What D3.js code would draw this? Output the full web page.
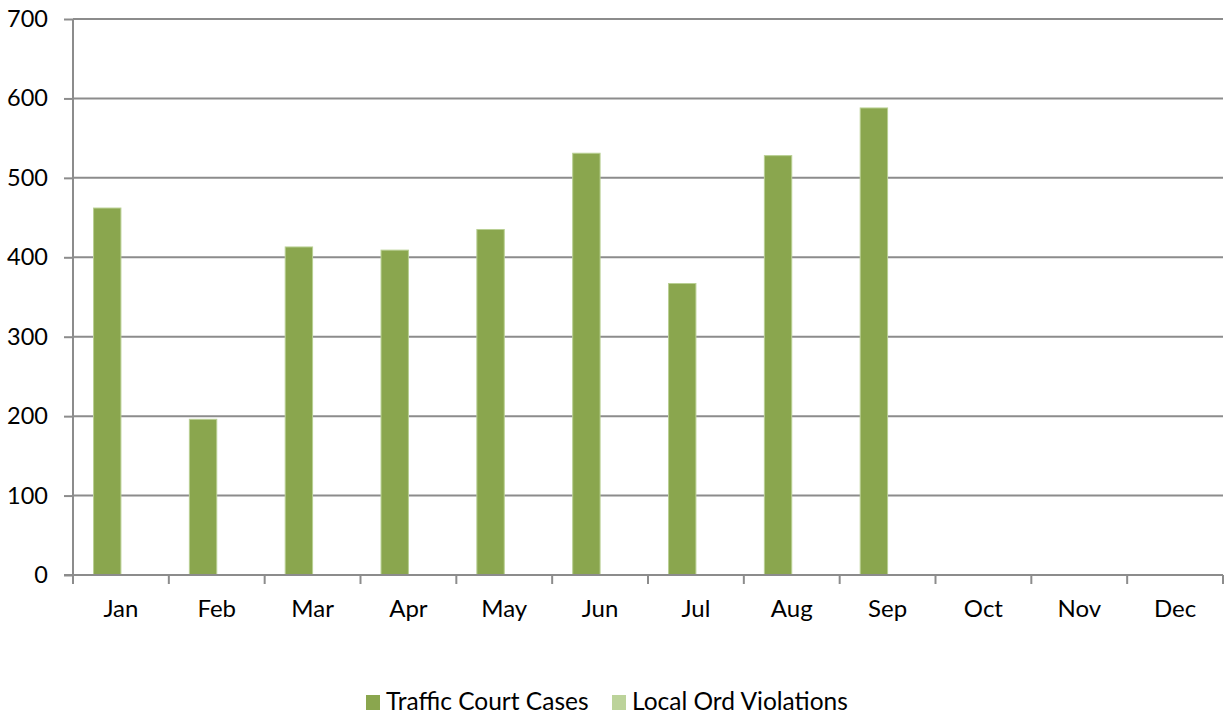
<!DOCTYPE html>
<html>
<head>
<meta charset="utf-8">
<script src="https://cdn.jsdelivr.net/npm/d3@7"></script>
<style>
  html, body { margin: 0; padding: 0; background: #ffffff; }
  svg { display: block; font-family: Lato, "Open Sans", "Liberation Sans", sans-serif; }
</style>
</head>
<body>
<svg id="chart" width="1225" height="717"></svg>
<script>
// Monthly case counts
const months = ["Jan", "Feb", "Mar", "Apr", "May", "Jun", "Jul", "Aug", "Sep", "Oct", "Nov", "Dec"];
const seriesNames = ["Traffic Court Cases", "Local Ord Violations"];
const trafficCourtCases = [462, 196, 413, 409, 435, 531, 367, 528, 588, null, null, null];
const localOrdViolations = [null, null, null, null, null, null, null, null, null, null, null, null];
const yTicks = [0, 100, 200, 300, 400, 500, 600, 700];
const seriesColors = ["#8aa64e", "#bcd39a"];

const svg = d3.select("#chart");
const margin = { left: 73, right: 2, top: 19, bottom: 142 };
const W = 1225, H = 717;
const plotW = W - margin.left - margin.right;
const plotH = H - margin.top - margin.bottom;
const fontFamily = "Lato, 'Open Sans', sans-serif";

const g = svg.append("g").attr("transform", `translate(${margin.left},${margin.top})`);

const x = d3.scaleBand().domain(months).range([0, plotW]).paddingInner(0).paddingOuter(0);
// Excel-style gap width of 150% between clusters
const bw = x.bandwidth() / (seriesNames.length + 1.5);
const xSub = d3.scaleBand().domain(seriesNames)
  .range([0.75 * bw, 0.75 * bw + seriesNames.length * bw]);

const y = d3.scaleLinear().domain([0, 700]).range([plotH, 0]);

// Horizontal gridlines
g.append("g").selectAll("line").data(yTicks.filter(d => d > 0)).join("line")
  .attr("x1", 0).attr("x2", plotW)
  .attr("y1", d => y(d)).attr("y2", d => y(d))
  .attr("stroke", "#8c8c8c").attr("stroke-width", 2);

// Bars
const data = months.map((m, i) => ({ month: m, values: [trafficCourtCases[i], localOrdViolations[i]] }));
g.append("g").selectAll("g").data(data).join("g")
  .attr("transform", d => `translate(${x(d.month)},0)`)
  .selectAll("rect")
  .data(d => d.values.map((v, j) => ({ name: seriesNames[j], value: v, j })).filter(d => d.value != null))
  .join("rect")
  .attr("x", d => xSub(d.name))
  .attr("width", xSub.bandwidth())
  .attr("y", d => y(d.value))
  .attr("height", d => y(0) - y(d.value))
  .attr("fill", d => seriesColors[d.j])
  .attr("stroke", "#b9cf93").attr("stroke-width", 1);

// Y axis
const yAxis = g.append("g").call(
  d3.axisLeft(y).tickValues(yTicks).tickSize(9).tickPadding(16).tickFormat(d3.format("d"))
);
yAxis.select(".domain").attr("stroke", "#8c8c8c").attr("stroke-width", 2)
  .attr("d", `M0,${plotH + 9}V0`);
yAxis.selectAll(".tick line").attr("stroke", "#8c8c8c").attr("stroke-width", 2);
yAxis.selectAll(".tick text").attr("font-size", 23.5).attr("fill", "#000")
  .attr("font-family", fontFamily);

// X axis with ticks between categories
const xAxis = g.append("g").attr("transform", `translate(0,${plotH})`);
xAxis.append("line").attr("x1", -9).attr("x2", plotW).attr("y1", 0).attr("y2", 0)
  .attr("stroke", "#8c8c8c").attr("stroke-width", 2);
xAxis.selectAll("line.tk").data(months.map(m => x(m) + x.bandwidth()).concat([0])).join("line")
  .attr("class", "tk")
  .attr("x1", d => d).attr("x2", d => d).attr("y1", 0).attr("y2", 9)
  .attr("stroke", "#8c8c8c").attr("stroke-width", 2);
xAxis.selectAll("text").data(months).join("text")
  .attr("x", d => x(d) + x.bandwidth() / 2)
  .attr("y", 42)
  .attr("text-anchor", "middle")
  .attr("font-size", 24).attr("fill", "#000")
  .text(d => d);

// Legend
const legend = svg.append("g").attr("transform", `translate(0,710)`);
const legendItems = [
  { name: seriesNames[0], color: seriesColors[0], x: 366 },
  { name: seriesNames[1], color: seriesColors[1], x: 612 }
];
const li = legend.selectAll("g").data(legendItems).join("g")
  .attr("transform", d => `translate(${d.x},0)`);
li.append("rect").attr("x", 0).attr("y", -15).attr("width", 14).attr("height", 15)
  .attr("fill", d => d.color);
li.append("text").attr("x", 20).attr("y", 0).attr("font-size", 24.5).attr("fill", "#000")
  .text(d => d.name);
</script>
</body>
</html>
